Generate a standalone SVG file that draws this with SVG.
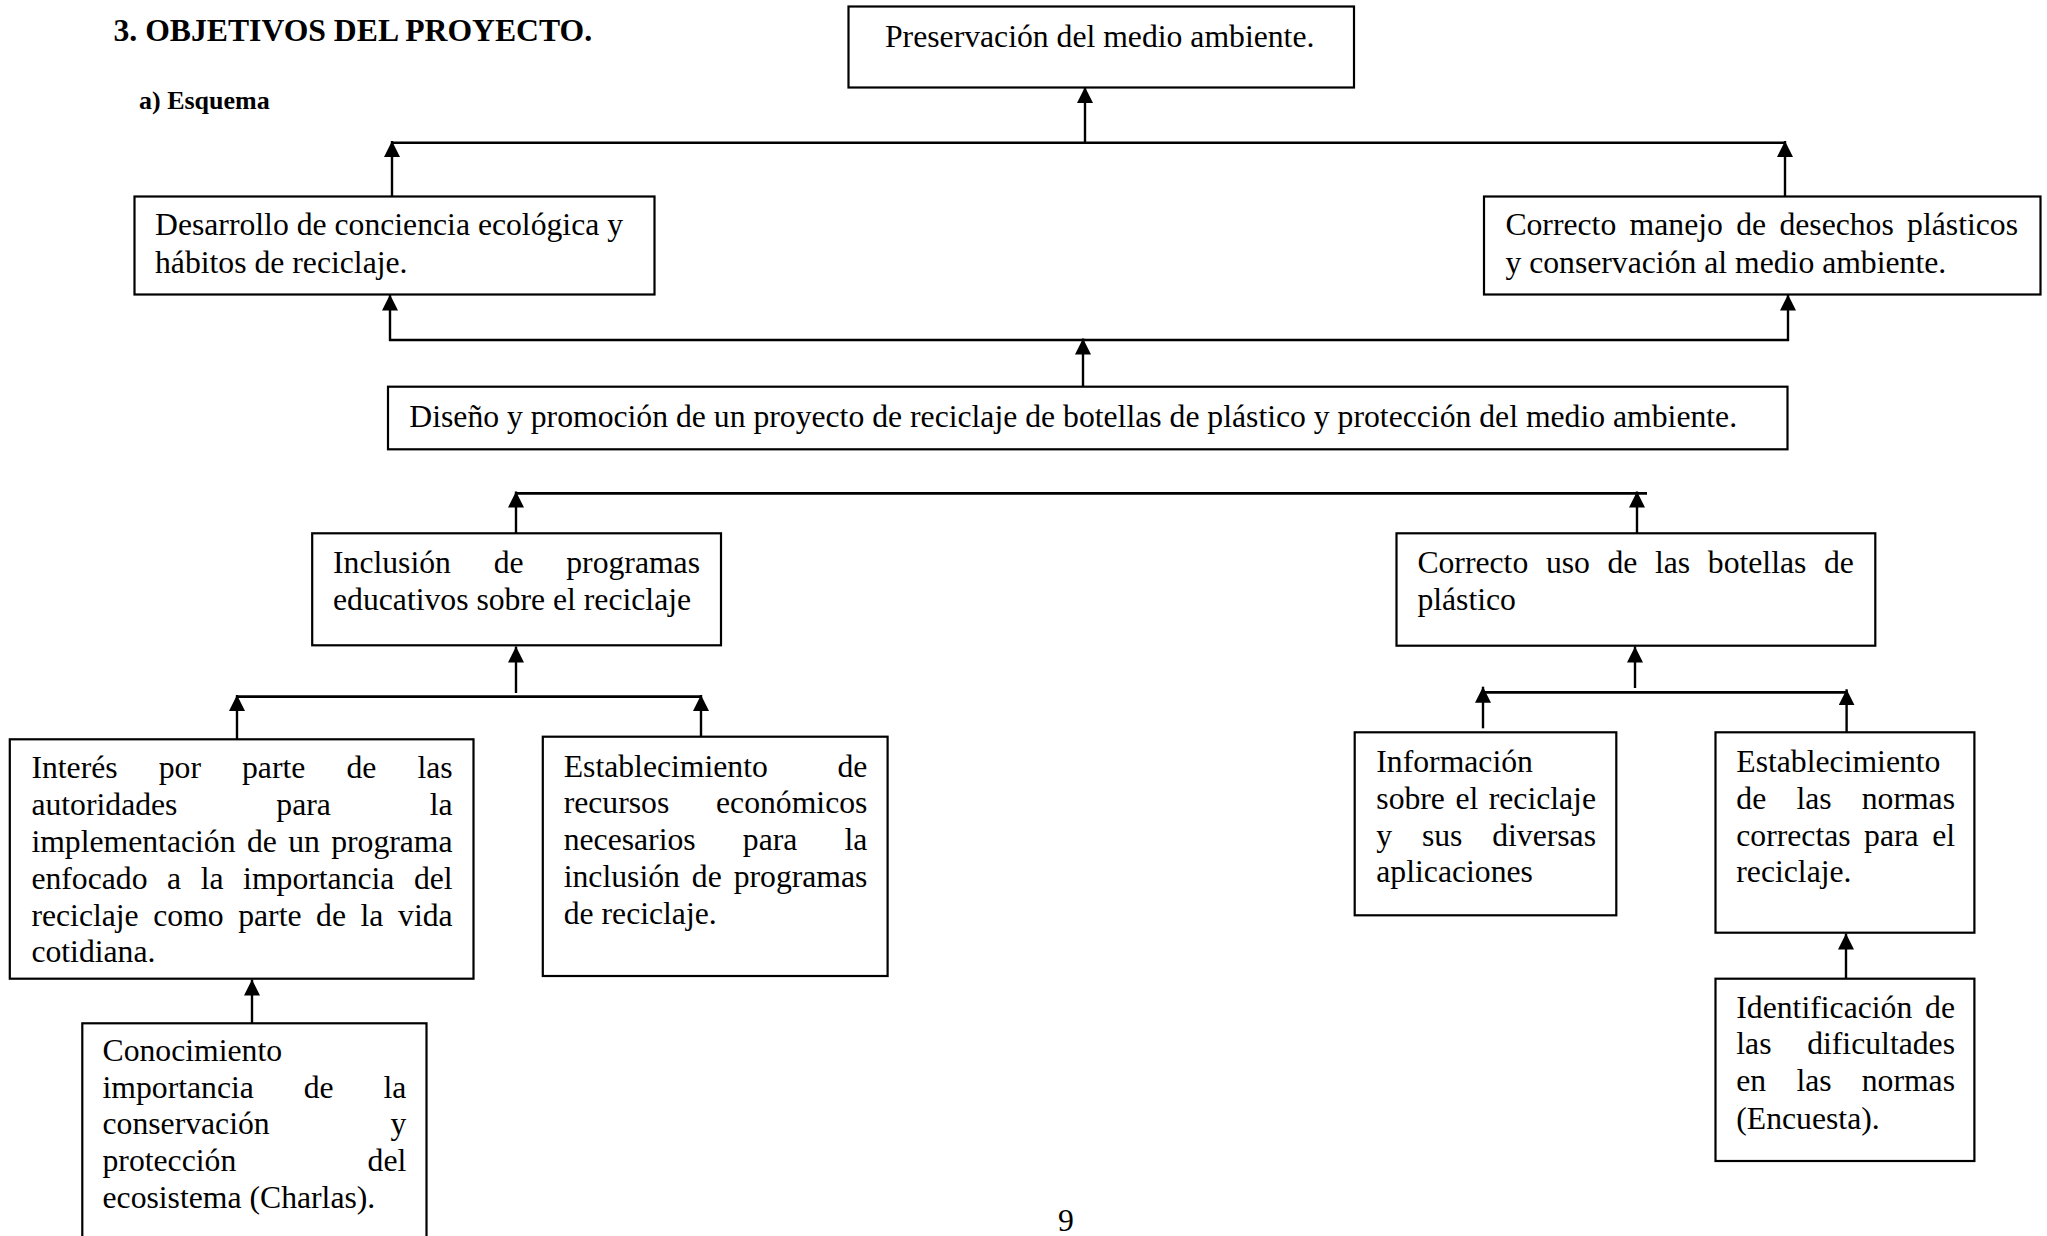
<svg xmlns="http://www.w3.org/2000/svg" width="2047" height="1236" viewBox="0 0 2047 1236">
<style>
.box{fill:#fff;stroke:#000;stroke-width:2.2}
.t{font-family:"Liberation Serif","Times New Roman",serif;font-size:31.7px;fill:#000}
.b{font-weight:bold}
.c{stroke:#000;stroke-width:2.4;fill:none}
.e{text-anchor:end}
</style>
<defs>
<marker id="ah" markerUnits="userSpaceOnUse" markerWidth="17" markerHeight="16" refX="16" refY="8" orient="auto">
<path d="M0,0 L16,8 L0,16 Z" fill="#000"/>
</marker>
</defs>
<rect width="2047" height="1236" fill="#fff"/>
<text class="t b" x="113.5" y="40.7">3. OBJETIVOS DEL PROYECTO.</text>
<text class="t b" x="139" y="109.3" style="font-size:26px">a) Esquema</text>
<text class="t" x="1058" y="1231">9</text>

<g id="connectors">
<line class="c" x1="1085" y1="144" x2="1085" y2="87" marker-end="url(#ah)"/>
<line class="c" x1="391" y1="142.7" x2="1786" y2="142.7"/>
<line class="c" x1="392" y1="196.7" x2="392" y2="141" marker-end="url(#ah)"/>
<line class="c" x1="1785" y1="196.7" x2="1785" y2="141" marker-end="url(#ah)"/>
<line class="c" x1="389" y1="340" x2="1789" y2="340"/>
<line class="c" x1="390" y1="341" x2="390" y2="294.5" marker-end="url(#ah)"/>
<line class="c" x1="1788" y1="341" x2="1788" y2="294.5" marker-end="url(#ah)"/>
<line class="c" x1="1083" y1="386.7" x2="1083" y2="338.5" marker-end="url(#ah)"/>
<line class="c" x1="516" y1="493.3" x2="1647" y2="493.3" style="stroke-width:2.8"/>
<line class="c" x1="516" y1="533.3" x2="516" y2="491.5" marker-end="url(#ah)"/>
<line class="c" x1="1637" y1="533.3" x2="1637" y2="491.5" marker-end="url(#ah)"/>
<line class="c" x1="516" y1="693" x2="516" y2="646.5" marker-end="url(#ah)"/>
<line class="c" x1="237" y1="696.7" x2="701" y2="696.7" style="stroke-width:2.8"/>
<line class="c" x1="237" y1="739.3" x2="237" y2="695" marker-end="url(#ah)"/>
<line class="c" x1="701" y1="736.7" x2="701" y2="695" marker-end="url(#ah)"/>
<line class="c" x1="252" y1="1023.3" x2="252" y2="979.5" marker-end="url(#ah)"/>
<line class="c" x1="1635" y1="688" x2="1635" y2="646.5" marker-end="url(#ah)"/>
<line class="c" x1="1483" y1="692.3" x2="1847" y2="692.3" style="stroke-width:2.8"/>
<line class="c" x1="1483" y1="728.3" x2="1483" y2="686.7" marker-end="url(#ah)"/>
<line class="c" x1="1846.6" y1="732.3" x2="1846.6" y2="689.3" marker-end="url(#ah)"/>
<line class="c" x1="1846" y1="978.7" x2="1846" y2="933.5" marker-end="url(#ah)"/>
</g>

<g id="n-preservacion">
<rect class="box" x="848.5" y="6.5" width="505.5" height="81"/>
<text class="t" x="885" y="47">Preservación del medio ambiente.</text>
</g>

<g id="n-desarrollo">
<rect class="box" x="134.5" y="196.5" width="520" height="98"/>
<text class="t" x="155" y="235">Desarrollo de conciencia ecológica y</text>
<text class="t" x="155" y="272.7">hábitos de reciclaje.</text>
</g>

<g id="n-correcto-manejo">
<rect class="box" x="1484" y="196.5" width="556.5" height="98"/>
<text class="t" y="235"><tspan x="1505.4">Correcto</tspan><tspan x="1629.6">manejo</tspan><tspan x="1736.2">de</tspan><tspan x="1779.4">desechos</tspan></text>
<text class="t e" x="2018" y="235">plásticos</text>
<text class="t" x="1505.4" y="272.7">y conservación al medio ambiente.</text>
</g>

<g id="n-diseno">
<rect class="box" x="388" y="386.7" width="1399.5" height="62.6"/>
<text class="t" x="409.3" y="426.5">Diseño y promoción de un proyecto de reciclaje de botellas de plástico y protección del medio ambiente.</text>
</g>

<g id="n-inclusion">
<rect class="box" x="312.2" y="533.3" width="408.8" height="112"/>
<text class="t" y="572.7"><tspan x="333">Inclusión</tspan><tspan x="493.7">de</tspan></text>
<text class="t e" x="700" y="572.7">programas</text>
<text class="t" x="333" y="610">educativos sobre el reciclaje</text>
</g>

<g id="n-correcto-uso">
<rect class="box" x="1396.5" y="533.3" width="478.8" height="112.4"/>
<text class="t" y="572.7"><tspan x="1417.4">Correcto</tspan><tspan x="1545.9">uso</tspan><tspan x="1607.5">de</tspan><tspan x="1655">las</tspan><tspan x="1707.8">botellas</tspan></text>
<text class="t e" x="1853.8" y="572.7">de</text>
<text class="t" x="1417.4" y="610">plástico</text>
</g>

<g id="n-interes">
<rect class="box" x="9.8" y="739.3" width="463.7" height="239.4"/>
<text class="t" y="778.3"><tspan x="31.4">Interés</tspan><tspan x="158.7">por</tspan><tspan x="242">parte</tspan><tspan x="346.4">de</tspan></text>
<text class="t e" x="452.6" y="778.3">las</text>
<text class="t" x="31.4" y="815.1">autoridades</text>
<text class="t" x="276.3" y="815.1">para</text>
<text class="t e" x="452.6" y="815.1">la</text>
<text class="t" y="851.9"><tspan x="31.4">implementación</tspan><tspan x="247">de</tspan><tspan x="288.2">un</tspan></text>
<text class="t e" x="452.6" y="851.9">programa</text>
<text class="t" y="888.7"><tspan x="31.4">enfocado</tspan><tspan x="167.1">a</tspan><tspan x="200.7">la</tspan><tspan x="243.1">importancia</tspan></text>
<text class="t e" x="452.6" y="888.7">del</text>
<text class="t" y="925.5"><tspan x="31.4">reciclaje</tspan><tspan x="153.3">como</tspan><tspan x="238.2">parte</tspan><tspan x="316.1">de</tspan><tspan x="360.5">la</tspan></text>
<text class="t e" x="452.6" y="925.5">vida</text>
<text class="t" x="31.4" y="962.3">cotidiana.</text>
</g>

<g id="n-recursos">
<rect class="box" x="542.8" y="736.7" width="344.8" height="239.3"/>
<text class="t" x="563.7" y="776.7">Establecimiento</text>
<text class="t e" x="867.4" y="776.7">de</text>
<text class="t" x="563.7" y="813.4">recursos</text>
<text class="t e" x="867.4" y="813.4">económicos</text>
<text class="t" y="850.1"><tspan x="563.7">necesarios</tspan><tspan x="742.8">para</tspan></text>
<text class="t e" x="867.4" y="850.1">la</text>
<text class="t" y="886.8"><tspan x="563.7">inclusión</tspan><tspan x="691.8">de</tspan></text>
<text class="t e" x="867.4" y="886.8">programas</text>
<text class="t" x="563.7" y="923.5">de reciclaje.</text>
</g>

<g id="n-conocimiento">
<rect class="box" x="82.3" y="1023.3" width="344.2" height="240"/>
<text class="t" x="102.5" y="1061">Conocimiento</text>
<text class="t" y="1097.7"><tspan x="102.5">importancia</tspan><tspan x="303.7">de</tspan></text>
<text class="t e" x="406.3" y="1097.7">la</text>
<text class="t" x="102.5" y="1134.4">conservación</text>
<text class="t e" x="406.3" y="1134.4">y</text>
<text class="t" x="102.5" y="1171.1">protección</text>
<text class="t e" x="406.3" y="1171.1">del</text>
<text class="t" x="102.5" y="1207.8">ecosistema (Charlas).</text>
</g>

<g id="n-informacion">
<rect class="box" x="1354.7" y="732.3" width="261.6" height="183"/>
<text class="t" x="1376.3" y="771.7">Información</text>
<text class="t" y="808.6"><tspan x="1376.3">sobre</tspan><tspan x="1455.4">el</tspan></text>
<text class="t e" x="1596" y="808.6">reciclaje</text>
<text class="t" y="845.5"><tspan x="1376.3">y</tspan><tspan x="1421.9">sus</tspan></text>
<text class="t e" x="1596" y="845.5">diversas</text>
<text class="t" x="1376.3" y="882.4">aplicaciones</text>
</g>

<g id="n-normas">
<rect class="box" x="1715.5" y="732.3" width="258.9" height="200.4"/>
<text class="t" x="1736.3" y="771.7">Establecimiento</text>
<text class="t" y="808.6"><tspan x="1736.3">de</tspan><tspan x="1796.4">las</tspan></text>
<text class="t e" x="1955" y="808.6">normas</text>
<text class="t" y="845.5"><tspan x="1736.3">correctas</tspan><tspan x="1864.1">para</tspan></text>
<text class="t e" x="1955" y="845.5">el</text>
<text class="t" x="1736.3" y="882.4">reciclaje.</text>
</g>

<g id="n-identificacion">
<rect class="box" x="1715.5" y="978.7" width="258.9" height="182.3"/>
<text class="t" x="1736.3" y="1017.7">Identificación</text>
<text class="t e" x="1955" y="1017.7">de</text>
<text class="t" x="1736.3" y="1054.4">las</text>
<text class="t e" x="1955" y="1054.4">dificultades</text>
<text class="t" y="1091.1"><tspan x="1736.3">en</tspan><tspan x="1796.4">las</tspan></text>
<text class="t e" x="1955" y="1091.1">normas</text>
<text class="t" x="1736.3" y="1128.7">(Encuesta).</text>
</g>
</svg>
